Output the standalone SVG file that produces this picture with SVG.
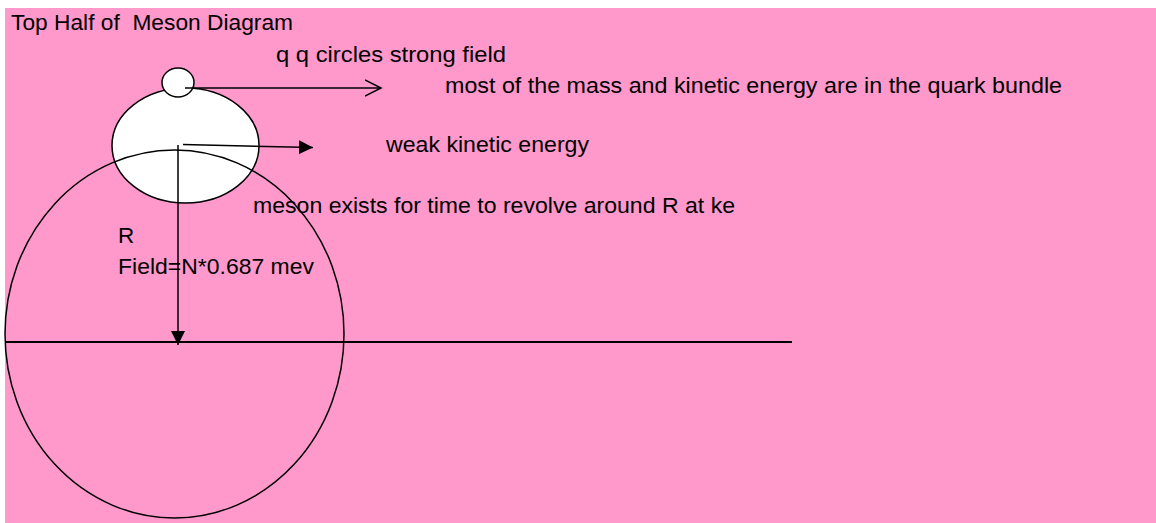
<svg xmlns="http://www.w3.org/2000/svg" width="1156" height="523" viewBox="0 0 1156 523">
<style>
.t{font-family:"Liberation Sans",Arial,sans-serif;font-size:22.5px;fill:#000;white-space:pre}
.s{stroke:#000;stroke-width:1.5;fill:#fff}
.c{stroke:#000;stroke-width:1.5;fill:none}
</style>
<defs>
<marker id="fa" markerUnits="userSpaceOnUse" markerWidth="14" markerHeight="14" refX="14" refY="7" orient="auto" viewBox="0 0 14 14"><path d="M0,0 L14,7 L0,14 z" fill="#000"/></marker>
<marker id="oa" markerUnits="userSpaceOnUse" markerWidth="18" markerHeight="20" refX="16" refY="9" orient="auto" viewBox="0 0 18 20"><path d="M0,1 L16,9 L0,17" fill="none" stroke="#000" stroke-width="1.5"/></marker>
</defs>
<rect x="5" y="8" width="1151" height="515" fill="#FF99CC"/>
<g id="middle-ellipse"><ellipse class="s" cx="185.5" cy="145.5" rx="73.5" ry="57.5"/></g>
<g id="quark-circle"><ellipse class="s" cx="178" cy="82.5" rx="16" ry="14.5"/></g>
<g id="field-ellipse"><ellipse class="c" cx="174.5" cy="334" rx="169.5" ry="184"/></g>
<g id="axis"><line x1="5" y1="342" x2="792" y2="342" stroke="#000" stroke-width="2"/></g>
<g id="connectors" class="c">
<line x1="185" y1="88" x2="381" y2="88" marker-end="url(#oa)"/>
<line x1="183" y1="144.5" x2="313" y2="147.5" marker-end="url(#fa)"/>
<line x1="178" y1="145" x2="178" y2="345" marker-end="url(#fa)"/>
</g>
<g id="labels">
<text class="t" x="11" y="30" textLength="282" lengthAdjust="spacingAndGlyphs" xml:space="preserve">Top Half of  Meson Diagram</text>
<text class="t" x="276" y="62" textLength="230" lengthAdjust="spacingAndGlyphs">q q circles strong field</text>
<text class="t" x="445" y="93" textLength="617" lengthAdjust="spacingAndGlyphs">most of the mass and kinetic energy are in the quark bundle</text>
<text class="t" x="386" y="152" textLength="203" lengthAdjust="spacingAndGlyphs">weak kinetic energy</text>
<text class="t" x="253" y="213" textLength="482" lengthAdjust="spacingAndGlyphs">meson exists for time to revolve around R at ke</text>
<text class="t" x="118" y="243">R</text>
<text class="t" x="118" y="274" textLength="196" lengthAdjust="spacingAndGlyphs">Field=N*0.687 mev</text>
</g>
</svg>
